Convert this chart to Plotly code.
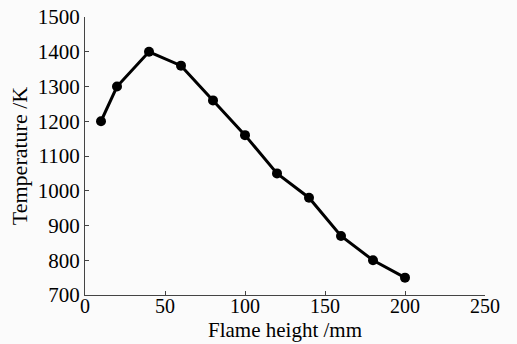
import plotly.graph_objects as go

flame_height = [10, 20, 40, 60, 80, 100, 120, 140, 160, 180, 200]
temperature = [1200, 1300, 1400, 1360, 1260, 1160, 1050, 980, 870, 800, 750]
x_ticks = [0, 50, 100, 150, 200, 250]
y_ticks = [700, 800, 900, 1000, 1100, 1200, 1300, 1400, 1500]

font = "Liberation Serif"

fig = go.Figure(go.Scatter(
    x=flame_height, y=temperature, mode="lines+markers",
    line=dict(color="black", width=3),
    marker=dict(color="black", size=10),
    showlegend=False,
))

fig.update_layout(
    width=517, height=344,
    margin=dict(l=85, r=32, t=17, b=49),
    paper_bgcolor="#fbfbfb", plot_bgcolor="#fbfbfb",
    font=dict(family=font, size=21, color="black"),
)
fig.update_xaxes(
    range=[0, 250], tickvals=x_ticks, showgrid=False, zeroline=False,
    showline=True, linecolor="#444", linewidth=1,
    ticks="inside", ticklen=4, tickcolor="#444",
    tickfont=dict(size=20), ticklabelstandoff=-7,
    automargin=False,
)
fig.update_yaxes(
    range=[700, 1500], tickvals=y_ticks, showgrid=False, zeroline=False,
    showline=True, linecolor="#444", linewidth=1,
    ticks="inside", ticklen=4, tickcolor="#444",
    tickfont=dict(size=21),
    title=dict(text="Temperature /K", standoff=4, font=dict(size=22)),
    automargin=False,
)
fig.add_annotation(
    text="Flame height /mm", xref="paper", yref="paper",
    x=0.5, y=-0.176, xanchor="center", yanchor="bottom",
    showarrow=False, font=dict(family=font, size=21, color="black"),
)

fig.write_html("out.html")
